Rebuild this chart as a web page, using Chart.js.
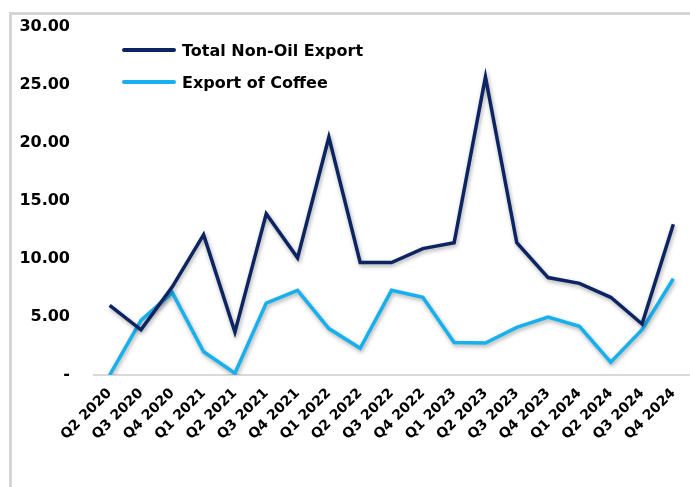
<!DOCTYPE html>
<html>
<head>
<meta charset="utf-8">
<script src="https://cdn.jsdelivr.net/npm/chart.js@4.4.1/dist/chart.umd.min.js"></script>
<style>
  html, body { margin: 0; padding: 0; background: #fff; }
  #wrap { position: relative; width: 690px; height: 487px; overflow: hidden; }
  #frame { position: absolute; left: 9px; top: 12px; width: 700px; height: 500px;
           border-left: 3px solid #d4d4d4; border-top: 3px solid #d4d4d4; }
  canvas { position: absolute; left: 0; top: 0; }
  #legend { position: absolute; left: 122px; top: 34px; font-family: "DejaVu Sans", sans-serif;
            font-weight: bold; font-size: 16px; color: #000; }
  .item { display: flex; align-items: center; height: 32px; }
  .swatch { width: 54px; height: 4px; border-radius: 2px; margin-right: 6px; }
</style>
</head>
<body>
<div id="wrap">
  <div id="frame"></div>
  <canvas id="myChart" width="690" height="487"></canvas>
  <div id="legend"></div>
</div>
<script>
const quarters = ['Q2 2020','Q3 2020','Q4 2020','Q1 2021','Q2 2021','Q3 2021','Q4 2021','Q1 2022','Q2 2022',
  'Q3 2022','Q4 2022','Q1 2023','Q2 2023','Q3 2023','Q4 2023','Q1 2024','Q2 2024','Q3 2024','Q4 2024'];
const nonOil = [6.0, 3.9, 7.6, 12.1, 3.7, 13.9, 10.1, 20.5, 9.7, 9.7, 10.9, 11.4, 25.7, 11.4, 8.4, 7.9, 6.7, 4.4, 13.0];
const coffee = [0.0, 4.7, 7.1, 2.0, 0.15, 6.2, 7.3, 4.0, 2.3, 7.3, 6.7, 2.8, 2.75, 4.1, 5.0, 4.2, 1.1, 3.9, 8.3];
const yTicks = [0, 5, 10, 15, 20, 25, 30];

const fontFamily = '"DejaVu Sans", sans-serif';

// soft drop shadow under the lines, like the original
const shadowPlugin = {
  id: 'shadow',
  beforeDatasetsDraw(chart) {
    const c = chart.ctx;
    c.save();
    c.shadowColor = 'rgba(0,0,0,0.35)';
    c.shadowBlur = 4;
    c.shadowOffsetX = 1;
    c.shadowOffsetY = 2;
  },
  afterDatasetsDraw(chart) {
    chart.ctx.restore();
  }
};

const ctx = document.getElementById('myChart');
const chart = new Chart(ctx, {
  type: 'line',
  data: {
    labels: quarters,
    datasets: [{
      label: 'Total Non-Oil Export',
      data: nonOil,
      borderColor: '#0c2461',
      borderWidth: 3.5,
      pointRadius: 0,
      tension: 0
    }, {
      label: 'Export of Coffee',
      data: coffee,
      borderColor: '#16b0ee',
      borderWidth: 3.5,
      pointRadius: 0,
      tension: 0
    }]
  },
  options: {
    responsive: false,
    animation: false,
    layout: { padding: { top: 27, right: 1, left: 0, bottom: 0 } },
    plugins: { legend: { display: false }, tooltip: { enabled: false } },
    scales: {
      x: {
        offset: true,
        grid: { display: false },
        border: { display: true, color: '#d9d9d9', width: 2 },
        ticks: {
          color: '#000',
          minRotation: 45,
          maxRotation: 45,
          autoSkip: false,
          padding: 2,
          font: { family: fontFamily, weight: 'bold', size: 14 }
        },
        afterFit: s => { s.height = 112; }
      },
      y: {
        min: 0,
        max: 30,
        grid: { display: false, drawTicks: false },
        border: { display: false },
        afterBuildTicks: s => { s.ticks = yTicks.map(v => ({ value: v })); },
        ticks: {
          color: '#000',
          padding: 24,
          font: { family: fontFamily, weight: 'bold', size: 16 },
          callback: v => v === 0 ? '-' : v.toFixed(2)
        },
        afterFit: s => { s.width = 94; s.paddingTop = 0; s.paddingBottom = 0; }
      }
    }
  },
  plugins: [shadowPlugin]
});

const legendEl = document.getElementById('legend');
chart.data.datasets.forEach(ds => {
  const row = document.createElement('div');
  row.className = 'item';
  row.innerHTML = '<span class="swatch" style="background:' + ds.borderColor + '"></span>' + ds.label;
  legendEl.appendChild(row);
});
</script>
</body>
</html>
